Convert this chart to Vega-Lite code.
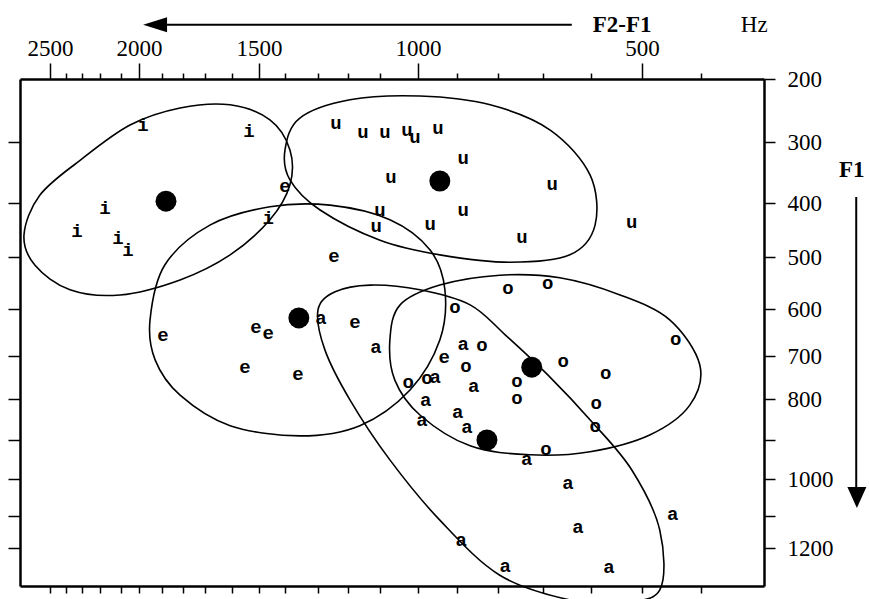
{
  "$schema": "https://vega.github.io/schema/vega-lite/v6.json",
  "autosize": {"type": "none"},
  "padding": {"left": 20, "top": 79, "right": 105, "bottom": 13},
  "width": 744,
  "height": 507,
  "background": "white",
  "config": {"view": {"stroke": null}, "font": "Liberation Serif"},
  "datasets": {
    "ellipses": [
      {"vowel": "i", "k": 1, "f2f1": 2663, "f1": 459},
      {"vowel": "i", "k": 2, "f2f1": 2563, "f1": 387},
      {"vowel": "i", "k": 3, "f2f1": 2312, "f1": 330},
      {"vowel": "i", "k": 4, "f2f1": 2050, "f1": 273},
      {"vowel": "i", "k": 5, "f2f1": 1814, "f1": 246},
      {"vowel": "i", "k": 6, "f2f1": 1607, "f1": 241},
      {"vowel": "i", "k": 7, "f2f1": 1458, "f1": 265},
      {"vowel": "i", "k": 8, "f2f1": 1385, "f1": 313},
      {"vowel": "i", "k": 9, "f2f1": 1385, "f1": 370},
      {"vowel": "i", "k": 10, "f2f1": 1458, "f1": 431},
      {"vowel": "i", "k": 11, "f2f1": 1607, "f1": 496},
      {"vowel": "i", "k": 12, "f2f1": 1814, "f1": 544},
      {"vowel": "i", "k": 13, "f2f1": 2105, "f1": 573},
      {"vowel": "i", "k": 14, "f2f1": 2375, "f1": 563},
      {"vowel": "i", "k": 15, "f2f1": 2594, "f1": 516},
      {"vowel": "u", "k": 1, "f2f1": 1400, "f1": 313},
      {"vowel": "u", "k": 2, "f2f1": 1355, "f1": 262},
      {"vowel": "u", "k": 3, "f2f1": 1194, "f1": 233},
      {"vowel": "u", "k": 4, "f2f1": 995, "f1": 227},
      {"vowel": "u", "k": 5, "f2f1": 819, "f1": 241},
      {"vowel": "u", "k": 6, "f2f1": 685, "f1": 281},
      {"vowel": "u", "k": 7, "f2f1": 602, "f1": 354},
      {"vowel": "u", "k": 8, "f2f1": 592, "f1": 441},
      {"vowel": "u", "k": 9, "f2f1": 644, "f1": 496},
      {"vowel": "u", "k": 10, "f2f1": 773, "f1": 510},
      {"vowel": "u", "k": 11, "f2f1": 944, "f1": 496},
      {"vowel": "u", "k": 12, "f2f1": 1100, "f1": 469},
      {"vowel": "u", "k": 13, "f2f1": 1293, "f1": 413},
      {"vowel": "u", "k": 14, "f2f1": 1385, "f1": 362},
      {"vowel": "e", "k": 1, "f2f1": 1952, "f1": 623},
      {"vowel": "e", "k": 2, "f2f1": 1886, "f1": 515},
      {"vowel": "e", "k": 3, "f2f1": 1682, "f1": 441},
      {"vowel": "e", "k": 4, "f2f1": 1458, "f1": 407},
      {"vowel": "e", "k": 5, "f2f1": 1260, "f1": 404},
      {"vowel": "e", "k": 6, "f2f1": 1074, "f1": 431},
      {"vowel": "e", "k": 7, "f2f1": 969, "f1": 487},
      {"vowel": "e", "k": 8, "f2f1": 931, "f1": 563},
      {"vowel": "e", "k": 9, "f2f1": 944, "f1": 666},
      {"vowel": "e", "k": 10, "f2f1": 1021, "f1": 779},
      {"vowel": "e", "k": 11, "f2f1": 1163, "f1": 865},
      {"vowel": "e", "k": 12, "f2f1": 1355, "f1": 890},
      {"vowel": "e", "k": 13, "f2f1": 1607, "f1": 865},
      {"vowel": "e", "k": 14, "f2f1": 1814, "f1": 791},
      {"vowel": "e", "k": 15, "f2f1": 1930, "f1": 709},
      {"vowel": "o", "k": 1, "f2f1": 1074, "f1": 666},
      {"vowel": "o", "k": 2, "f2f1": 1047, "f1": 592},
      {"vowel": "o", "k": 3, "f2f1": 944, "f1": 554},
      {"vowel": "o", "k": 4, "f2f1": 796, "f1": 535},
      {"vowel": "o", "k": 5, "f2f1": 665, "f1": 540},
      {"vowel": "o", "k": 6, "f2f1": 543, "f1": 573},
      {"vowel": "o", "k": 7, "f2f1": 453, "f1": 623},
      {"vowel": "o", "k": 8, "f2f1": 402, "f1": 721},
      {"vowel": "o", "k": 9, "f2f1": 419, "f1": 815},
      {"vowel": "o", "k": 10, "f2f1": 486, "f1": 887},
      {"vowel": "o", "k": 11, "f2f1": 602, "f1": 930},
      {"vowel": "o", "k": 12, "f2f1": 729, "f1": 938},
      {"vowel": "o", "k": 13, "f2f1": 868, "f1": 915},
      {"vowel": "o", "k": 14, "f2f1": 995, "f1": 839},
      {"vowel": "o", "k": 15, "f2f1": 1061, "f1": 756},
      {"vowel": "a", "k": 1, "f2f1": 1300, "f1": 602},
      {"vowel": "a", "k": 2, "f2f1": 1243, "f1": 567},
      {"vowel": "a", "k": 3, "f2f1": 1131, "f1": 554},
      {"vowel": "a", "k": 4, "f2f1": 995, "f1": 563},
      {"vowel": "a", "k": 5, "f2f1": 868, "f1": 592},
      {"vowel": "a", "k": 6, "f2f1": 784, "f1": 655},
      {"vowel": "a", "k": 7, "f2f1": 690, "f1": 744},
      {"vowel": "a", "k": 8, "f2f1": 598, "f1": 856},
      {"vowel": "a", "k": 9, "f2f1": 520, "f1": 977},
      {"vowel": "a", "k": 10, "f2f1": 470, "f1": 1143},
      {"vowel": "a", "k": 11, "f2f1": 470, "f1": 1333},
      {"vowel": "a", "k": 12, "f2f1": 543, "f1": 1371},
      {"vowel": "a", "k": 13, "f2f1": 644, "f1": 1364},
      {"vowel": "a", "k": 14, "f2f1": 796, "f1": 1286},
      {"vowel": "a", "k": 15, "f2f1": 944, "f1": 1113},
      {"vowel": "a", "k": 16, "f2f1": 1074, "f1": 951},
      {"vowel": "a", "k": 17, "f2f1": 1194, "f1": 802},
      {"vowel": "a", "k": 18, "f2f1": 1277, "f1": 687}
    ],
    "tokens": [
      {"vowel": "i", "f2f1": 1983, "f1": 273},
      {"vowel": "i", "f2f1": 1537, "f1": 283},
      {"vowel": "i", "f2f1": 2176, "f1": 409},
      {"vowel": "i", "f2f1": 2331, "f1": 452},
      {"vowel": "i", "f2f1": 2114, "f1": 465},
      {"vowel": "i", "f2f1": 2061, "f1": 487},
      {"vowel": "i", "f2f1": 1465, "f1": 428},
      {"vowel": "u", "f2f1": 1240, "f1": 270},
      {"vowel": "u", "f2f1": 1153, "f1": 284},
      {"vowel": "u", "f2f1": 1087, "f1": 284},
      {"vowel": "u", "f2f1": 1029, "f1": 281},
      {"vowel": "u", "f2f1": 1008, "f1": 292},
      {"vowel": "u", "f2f1": 949, "f1": 278},
      {"vowel": "u", "f2f1": 885, "f1": 326},
      {"vowel": "u", "f2f1": 1071, "f1": 357},
      {"vowel": "u", "f2f1": 681, "f1": 369},
      {"vowel": "u", "f2f1": 885, "f1": 413},
      {"vowel": "u", "f2f1": 1100, "f1": 413},
      {"vowel": "u", "f2f1": 1112, "f1": 443},
      {"vowel": "u", "f2f1": 969, "f1": 439},
      {"vowel": "u", "f2f1": 747, "f1": 463},
      {"vowel": "u", "f2f1": 520, "f1": 435},
      {"vowel": "e", "f2f1": 1400, "f1": 372},
      {"vowel": "e", "f2f1": 1247, "f1": 498},
      {"vowel": "e", "f2f1": 1895, "f1": 655},
      {"vowel": "e", "f2f1": 1511, "f1": 638},
      {"vowel": "e", "f2f1": 1465, "f1": 651},
      {"vowel": "e", "f2f1": 1552, "f1": 726},
      {"vowel": "e", "f2f1": 1361, "f1": 742},
      {"vowel": "e", "f2f1": 1178, "f1": 628},
      {"vowel": "e", "f2f1": 933, "f1": 702},
      {"vowel": "a", "f2f1": 1290, "f1": 619},
      {"vowel": "a", "f2f1": 1113, "f1": 681},
      {"vowel": "a", "f2f1": 885, "f1": 674},
      {"vowel": "a", "f2f1": 859, "f1": 770},
      {"vowel": "a", "f2f1": 980, "f1": 802},
      {"vowel": "a", "f2f1": 898, "f1": 832},
      {"vowel": "a", "f2f1": 990, "f1": 851},
      {"vowel": "a", "f2f1": 876, "f1": 868},
      {"vowel": "a", "f2f1": 736, "f1": 949},
      {"vowel": "a", "f2f1": 648, "f1": 1011},
      {"vowel": "a", "f2f1": 627, "f1": 1134},
      {"vowel": "a", "f2f1": 448, "f1": 1094},
      {"vowel": "a", "f2f1": 890, "f1": 1175},
      {"vowel": "a", "f2f1": 784, "f1": 1257},
      {"vowel": "a", "f2f1": 565, "f1": 1260},
      {"vowel": "a", "f2f1": 956, "f1": 749},
      {"vowel": "o", "f2f1": 778, "f1": 560},
      {"vowel": "o", "f2f1": 690, "f1": 550},
      {"vowel": "o", "f2f1": 905, "f1": 596},
      {"vowel": "o", "f2f1": 839, "f1": 676},
      {"vowel": "o", "f2f1": 658, "f1": 712},
      {"vowel": "o", "f2f1": 571, "f1": 740},
      {"vowel": "o", "f2f1": 443, "f1": 664},
      {"vowel": "o", "f2f1": 878, "f1": 723},
      {"vowel": "o", "f2f1": 758, "f1": 758},
      {"vowel": "o", "f2f1": 758, "f1": 798},
      {"vowel": "o", "f2f1": 590, "f1": 810},
      {"vowel": "o", "f2f1": 592, "f1": 866},
      {"vowel": "o", "f2f1": 694, "f1": 923},
      {"vowel": "o", "f2f1": 1026, "f1": 760},
      {"vowel": "o", "f2f1": 977, "f1": 751}
    ],
    "centers": [
      {"vowel": "i", "f2f1": 1881, "f1": 397},
      {"vowel": "u", "f2f1": 944, "f1": 364},
      {"vowel": "e", "f2f1": 1358, "f1": 619},
      {"vowel": "a", "f2f1": 827, "f1": 900},
      {"vowel": "o", "f2f1": 725, "f1": 726}
    ],
    "labels": [
      {"label": "F2-F1", "f2f1": 539, "f1": 114},
      {"label": "Hz", "f2f1": 318, "f1": 114},
      {"label": "F1", "f2f1": 168, "f1": 346}
    ],
    "arrows": [
      {"dir": "left", "xa": 1876, "xb": 640, "ya": 114, "yb": 114, "xh": 1930, "yh": 114},
      {"dir": "down", "xa": 161, "xb": 161, "ya": 390, "yb": 1022, "xh": 160, "yh": 1050}
    ]
  },
  "layer": [
    {
      "data": {"name": "ellipses"},
      "mark": {"type": "line", "interpolate": "cardinal-closed", "color": "black", "strokeWidth": 1.6},
      "encoding": {
        "x": {
          "field": "f2f1", "type": "quantitative",
          "scale": {"domain": [2688, 2500, 2400, 2300, 2200, 2100, 2000, 1900, 1800, 1700, 1600, 1500, 1400, 1300, 1200, 1100, 1000, 900, 800, 700, 600, 500, 400, 303], "range": [0, 30, 46, 62, 80, 101, 119, 142, 163, 185, 212, 239, 265, 298, 328, 360, 398, 437, 478, 523, 571, 622, 681, 744], "zero": false, "nice": false},
          "axis": {
            "orient": "top", "title": null, "grid": false,
            "values": [2500, 2400, 2300, 2200, 2100, 2000, 1900, 1800, 1700, 1600, 1500, 1400, 1300, 1200, 1100, 1000, 900, 800, 700, 600, 500, 400],
            "labelExpr": "datum.value % 500 == 0 ? datum.label : ''",
            "format": "d",
            "tickSize": {"condition": {"test": "datum.value % 500 == 0", "value": 16}, "value": 6},
            "tickWidth": 1.5, "tickColor": "black",
            "domainColor": "black", "domainWidth": 2.5,
            "labelFont": "Liberation Serif", "labelFontSize": 23, "labelColor": "black",
            "labelPadding": 3, "labelFlush": false, "labelOverlap": false
          }
        },
        "y": {
          "field": "f1", "type": "quantitative",
          "scale": {"domain": [200, 300, 400, 500, 600, 700, 800, 900, 1000, 1100, 1200, 1320], "range": [0, 63, 124, 178, 230, 277, 320, 361, 400, 437, 469, 507], "zero": false, "nice": false},
          "axis": {
            "orient": "right", "title": null, "grid": false,
            "values": [200, 300, 400, 500, 600, 700, 800, 900, 1000, 1100, 1200],
            "labelExpr": "datum.value == 900 || datum.value == 1100 ? '' : datum.label",
            "format": "d",
            "tickSize": 11, "tickWidth": 1.5, "tickColor": "black",
            "domainColor": "black", "domainWidth": 2.5,
            "labelFont": "Liberation Serif", "labelFontSize": 23, "labelColor": "black",
            "labelPadding": 12, "labelFlush": false, "labelOverlap": false
          }
        },
        "detail": {"field": "vowel", "type": "nominal"},
        "order": {"field": "k", "type": "quantitative"}
      }
    },
    {
      "data": {"name": "tokens"},
      "mark": {"type": "text", "font": "Liberation Mono", "fontSize": 19, "fontWeight": "bold", "color": "black", "baseline": "middle", "align": "center"},
      "encoding": {
        "x": {
          "field": "f2f1", "type": "quantitative",
          "axis": {
            "orient": "bottom", "title": null, "grid": false, "labels": false,
            "values": [2500, 2400, 2300, 2200, 2100, 2000, 1900, 1800, 1700, 1600, 1500, 1400, 1300, 1200, 1100, 1000, 900, 800, 700, 600, 500, 400],
            "tickSize": 7, "tickWidth": 1.5, "tickColor": "black",
            "domainColor": "black", "domainWidth": 2.5
          }
        },
        "y": {
          "field": "f1", "type": "quantitative",
          "axis": {
            "orient": "left", "title": null, "grid": false, "labels": false,
            "values": [300, 400, 500, 600, 700, 800, 900, 1000, 1100, 1200],
            "tickSize": 12, "tickWidth": 1.5, "tickColor": "black",
            "domainColor": "black", "domainWidth": 2.5
          }
        },
        "text": {"field": "vowel", "type": "nominal"}
      }
    },
    {
      "data": {"name": "centers"},
      "mark": {"type": "point", "filled": true, "color": "black", "opacity": 1, "size": 440},
      "encoding": {
        "x": {"field": "f2f1", "type": "quantitative", "axis": null},
        "y": {"field": "f1", "type": "quantitative", "axis": null}
      }
    },
    {
      "data": {"name": "arrows"},
      "mark": {"type": "rule", "color": "black", "strokeWidth": 2},
      "encoding": {
        "x": {"field": "xa", "type": "quantitative", "axis": null},
        "x2": {"field": "xb"},
        "y": {"field": "ya", "type": "quantitative", "axis": null},
        "y2": {"field": "yb"}
      }
    },
    {
      "data": {"name": "arrows"},
      "mark": {"type": "point", "filled": true, "color": "black", "opacity": 1, "size": 500},
      "encoding": {
        "x": {"field": "xh", "type": "quantitative", "axis": null},
        "y": {"field": "yh", "type": "quantitative", "axis": null},
        "shape": {"field": "dir", "type": "nominal", "legend": null,
          "scale": {"domain": ["left", "down"], "range": ["M -1.07 0 L 1.07 -0.67 L 1.07 0.67 Z", "M 0 0.94 L -0.85 -0.94 L 0.85 -0.94 Z"]}}
      }
    },
    {
      "data": {"name": "labels"},
      "transform": [{"filter": "datum.label != 'Hz'"}],
      "mark": {"type": "text", "font": "Liberation Serif", "fontSize": 23, "fontWeight": "bold", "color": "black", "baseline": "middle", "align": "center"},
      "encoding": {
        "x": {"field": "f2f1", "type": "quantitative", "axis": null},
        "y": {"field": "f1", "type": "quantitative", "axis": null},
        "text": {"field": "label", "type": "nominal"}
      }
    },
    {
      "data": {"name": "labels"},
      "transform": [{"filter": "datum.label == 'Hz'"}],
      "mark": {"type": "text", "font": "Liberation Serif", "fontSize": 23, "color": "black", "baseline": "middle", "align": "center"},
      "encoding": {
        "x": {"field": "f2f1", "type": "quantitative", "axis": null},
        "y": {"field": "f1", "type": "quantitative", "axis": null},
        "text": {"field": "label", "type": "nominal"}
      }
    }
  ],
  "resolve": {"axis": {"x": "independent", "y": "independent"}}
}
